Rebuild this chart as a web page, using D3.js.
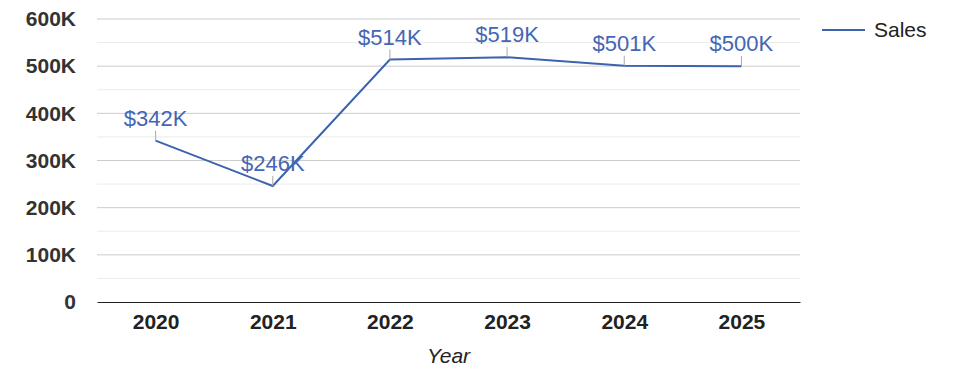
<!DOCTYPE html>
<html><head><meta charset="utf-8">
<script src="https://cdn.jsdelivr.net/npm/d3@7"></script>
<style>body{margin:0;background:#fff;} svg{display:block;font-family:"Liberation Sans",Arial,sans-serif;}</style>
</head><body>
<svg id="c" width="975" height="378"></svg>
<script>
const years = ["2020","2021","2022","2023","2024","2025"];
const sales = [342000, 246000, 514000, 519000, 501000, 500000];
const yTicks = [0,100000,200000,300000,400000,500000,600000];
const yMinor = [50000,150000,250000,350000,450000,550000];
const seriesName = "Sales";
const xTitle = "Year";

const svg = d3.select("#c");
const L=97, R=800, T=19, B=302;
const x = d3.scalePoint().domain(years).range([L,R]).padding(0.5);
const y = d3.scaleLinear().domain([0,600000]).range([B,T]);

svg.append("g").selectAll("line").data(yMinor).join("line")
  .attr("x1",L).attr("x2",R).attr("y1",d=>y(d)).attr("y2",d=>y(d))
  .attr("stroke","#ebebeb").attr("stroke-width",1);
svg.append("g").selectAll("line").data(yTicks.filter(d=>d>0)).join("line")
  .attr("x1",L).attr("x2",R).attr("y1",d=>y(d)).attr("y2",d=>y(d))
  .attr("stroke","#cccccc").attr("stroke-width",1);

const fmtY = d => d===0 ? "0" : (d/1000)+"K";
const yAxis = svg.append("g").attr("transform",`translate(${L},0)`)
  .call(d3.axisLeft(y).tickValues(yTicks).tickFormat(fmtY).tickSize(0).tickPadding(21));
yAxis.select(".domain").remove();
yAxis.selectAll("text").attr("font-size",21).attr("font-weight","bold").attr("fill","#333").attr("font-family","Liberation Sans, Arial, sans-serif");

const xAxis = svg.append("g").attr("transform",`translate(0,${B})`)
  .call(d3.axisBottom(x).tickSize(0).tickPadding(12));
xAxis.select(".domain").attr("stroke","#222").attr("stroke-width",1.2);
xAxis.selectAll("text").attr("font-size",21).attr("font-weight","bold").attr("fill","#222").attr("font-family","Liberation Sans, Arial, sans-serif");

svg.append("text").attr("x",(L+R)/2).attr("y",363).attr("text-anchor","middle")
  .attr("font-size",21).attr("font-style","italic").attr("fill","#222").text(xTitle);

const data = years.map((d,i)=>({year:d,v:sales[i]}));
svg.append("path").datum(data)
  .attr("d", d3.line().x(d=>x(d.year)).y(d=>y(d.v)))
  .attr("fill","none").attr("stroke","#3d63ae").attr("stroke-width",2);

const lab = svg.append("g").selectAll("g").data(data).join("g");
lab.append("line").attr("x1",d=>x(d.year)).attr("x2",d=>x(d.year))
  .attr("y1",d=>y(d.v)-10).attr("y2",d=>y(d.v))
  .attr("stroke","#aaaaaa").attr("stroke-width",1);
lab.append("text").attr("x",d=>x(d.year)).attr("y",d=>y(d.v)-15)
  .attr("text-anchor","middle").attr("font-size",22).attr("fill","#4466b4")
  .text(d=>"$"+Math.round(d.v/1000)+"K");

svg.append("line").attr("x1",822).attr("x2",865).attr("y1",30).attr("y2",30)
  .attr("stroke","#3d63ae").attr("stroke-width",2);
svg.append("text").attr("x",874).attr("y",37).attr("font-size",21).attr("fill","#222").text(seriesName);
</script>
</body></html>
